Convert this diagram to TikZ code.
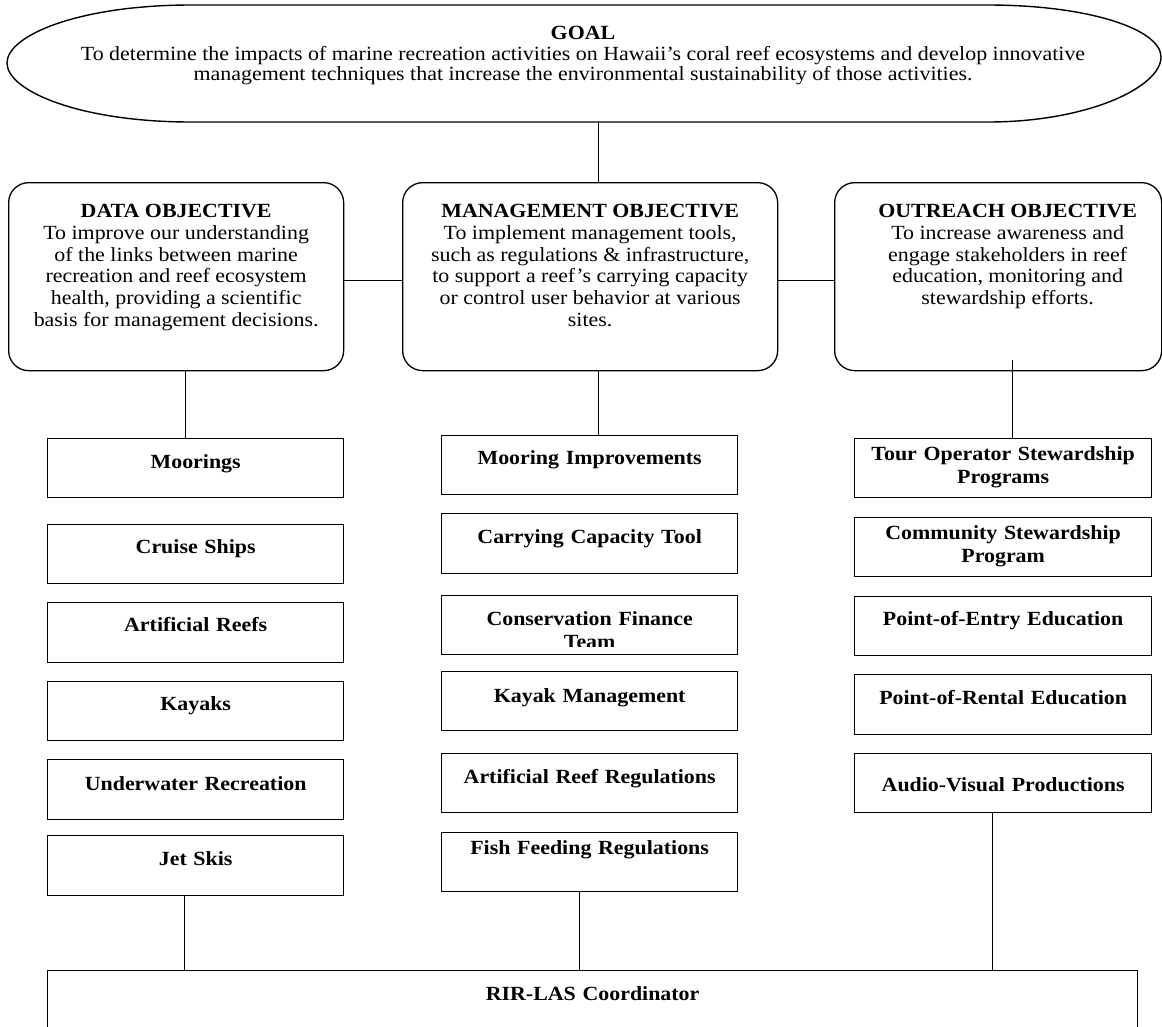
\documentclass[tikz,border=0pt]{standalone}
\usepackage{fontspec}
\setmainfont{Liberation Serif}[FakeStretch=1.09]
\newcommand\bodyfont{\fontsize{20.1pt}{21.7pt}\selectfont}
\newcommand\goalfont{\fontsize{20.1pt}{20.5pt}\selectfont}
\newcommand\itemfont{\fontsize{20.1pt}{23.5pt}\selectfont\bfseries}
\begin{document}
\begin{tikzpicture}[x=1pt,y=-1pt,
  objbox/.style={draw, line width=1.3pt, rounded corners=20pt, inner sep=0pt, anchor=north west,
    font=\bodyfont, minimum height=188pt, text height=35pt, text depth=153pt},
  itembox/.style={draw, line width=1.3pt, inner sep=0pt, anchor=north west, font=\itemfont,
    text width=#1, align=center},
  itembox/.default=296pt,
  link/.style={line width=1pt},
  goalshape/.style={line width=1.4pt}
]
\useasboundingbox (0,0) rectangle (1162,1026);
\fill[white] (0,0) rectangle (1162,1026);
\clip (0,0) rectangle (1162,1026);

% ---------- goal ----------
\draw[goalshape] (191,5) -- (988,5)
  .. controls (1088,5) and (1161,29) .. (1161,57)
  .. controls (1161,87) and (1088,122) .. (988,122)
  -- (191,122)
  .. controls (80,122) and (7,91) .. (7,63)
  .. controls (7,35) and (80,5) .. (191,5) -- cycle;
\node[inner sep=0pt, anchor=north, font=\goalfont, text height=34.5pt, text depth=82.5pt] (goal) at (583,5)
  {\parbox[t]{1130pt}{\centering\textbf{GOAL}\\
   To determine the impacts of marine recreation activities on Hawaii’s coral reef ecosystems and develop innovative\\
   management techniques that increase the environmental sustainability of those activities.}};

% ---------- objectives ----------
\node[objbox, minimum width=335pt] (data) at (8,182)
  {\parbox[t]{328pt}{\centering\textbf{DATA OBJECTIVE}\\
   To improve our understanding\\ of the links between marine\\ recreation and reef ecosystem\\
   health, providing a scientific\\ basis for management decisions.}};
\node[objbox, minimum width=375pt] (mgmt) at (402,182)
  {\parbox[t]{368pt}{\centering\textbf{MANAGEMENT OBJECTIVE}\\
   To implement management tools,\\ such as regulations \& infrastructure,\\
   to support a reef’s carrying capacity\\ or control user behavior at various\\ sites.}};
\node[objbox, minimum width=327pt] (outreach) at (834,182)
  {\hspace*{19pt}\parbox[t]{290pt}{\centering\textbf{OUTREACH OBJECTIVE}\\
   To increase awareness and\\ engage stakeholders in reef\\ education, monitoring and\\ stewardship efforts.}};

% ---------- data column ----------
\node[itembox, text height=29.5pt, text depth=29.5pt] (L1) at (47,438) {Moorings};
\node[itembox, text height=28.5pt, text depth=30.5pt] (L2) at (47,524) {Cruise Ships};
\node[itembox, text height=28.5pt, text depth=31.5pt] (L3) at (47,602) {Artificial Reefs};
\node[itembox, text height=28.5pt, text depth=30.5pt] (L4) at (47,681) {Kayaks};
\node[itembox, text height=30.5pt, text depth=29.5pt] (L5) at (47,759) {Underwater Recreation};
\node[itembox, text height=29.5pt, text depth=30.5pt] (L6) at (47,835) {Jet Skis};

% ---------- management column ----------
\node[itembox, text height=28.5pt, text depth=30.5pt] (M1) at (441,435) {Mooring Improvements};
\node[itembox, text height=29.5pt, text depth=30.5pt] (M2) at (441,513) {Carrying Capacity Tool};
\node[itembox, text height=29.5pt, text depth=29.5pt] (M3) at (441,595) {Conservation Finance};
\begin{scope}
  \clip (M3.north west) rectangle ([yshift=9pt]M3.south east);
  \node[anchor=base, inner sep=0pt, font=\itemfont] (team) at ([yshift=-53pt]M3.north) {Team};
\end{scope}
\node[itembox, text height=30.5pt, text depth=28.5pt] (M4) at (441,671) {Kayak Management};
\node[itembox, text height=29.5pt, text depth=29.5pt] (M5) at (441,753) {Artificial Reef Regulations};
\node[itembox, text height=21.5pt, text depth=37.5pt] (M6) at (441,832) {Fish Feeding Regulations};

% ---------- outreach column ----------
\node[itembox=297pt, text height=21.5pt, text depth=37.5pt] (R1) at (854,438) {Tour Operator Stewardship\\Programs};
\node[itembox=297pt, text height=21.5pt, text depth=37.5pt] (R2) at (854,517) {Community Stewardship\\Program};
\node[itembox=297pt, text height=28.5pt, text depth=30.5pt] (R3) at (854,596) {Point-of-Entry Education};
\node[itembox=297pt, text height=29.5pt, text depth=30.5pt] (R4) at (854,674) {Point-of-Rental Education};
\node[itembox=297pt, text height=37.5pt, text depth=21.5pt] (R5) at (854,753) {Audio-Visual Productions};

% ---------- coordinator ----------
\node[itembox=1090pt, text height=29.5pt, text depth=70pt] (rir) at (47,970) {RIR-LAS Coordinator};

% ---------- connectors ----------
\draw[link] ([xshift=15pt]goal.south) -- ([xshift=15pt]goal.south |- mgmt.north);
\draw[link] ([yshift=-4pt]data.east) -- ([yshift=-4pt]mgmt.west);
\draw[link] ([yshift=-4pt]mgmt.east) -- ([yshift=-4pt]outreach.west);
\draw[link] ([xshift=9.5pt]data.south) -- ([xshift=9.5pt]data.south |- L1.north);
\draw[link] ([xshift=8.5pt]mgmt.south) -- ([xshift=8.5pt]mgmt.south |- M1.north);
\draw[link] ([xshift=14.5pt,yshift=11pt]outreach.south) -- ([xshift=14.5pt]outreach.south |- R1.north);
\draw[link] ([xshift=-11pt]L6.south) -- ([xshift=-11pt]L6.south |- rir.north);
\draw[link] ([xshift=-10pt]M6.south) -- ([xshift=-10pt]M6.south |- rir.north);
\draw[link] ([xshift=-10.5pt]R5.south) -- ([xshift=-10.5pt]R5.south |- rir.north);
\end{tikzpicture}
\end{document}
